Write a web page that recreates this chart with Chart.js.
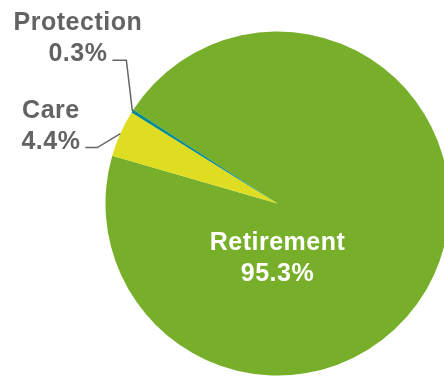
<!DOCTYPE html>
<html>
<head>
<meta charset="utf-8">
<script src="https://cdn.jsdelivr.net/npm/chart.js@4/dist/chart.umd.min.js"></script>
<style>
    html, body { margin: 0; padding: 0; background: #fff; }
    #wrap { width: 444px; height: 376px; position: relative; }
</style>
</head>
<body>
<div id="wrap"><canvas id="pieChart"></canvas></div>
<script>
const categories = ['Retirement', 'Care', 'Protection'];
const shares = [95.3, 4.4, 0.3];
const sliceColors = ['#77af2a', '#dfdd22', '#00898e'];

const FONT = 'bold 25px "Liberation Sans", Arial, sans-serif';

// leader line shape for the small slices: elbow offset from the rim, then a flat run to the left
const leaders = {
    Care: { dx: -23, dy: 14, run: 12 },
    Protection: { dx: -6, dy: -51, run: 14 }
};

const labelPlugin = {
    id: 'sliceLabels',
    afterDraw(chart) {
        const ctx = chart.ctx;
        const arcs = chart.getDatasetMeta(0).data;
        ctx.save();
        ctx.font = FONT;
        ctx.letterSpacing = '0.5px';
        arcs.forEach((arc, i) => {
            const { x, y, startAngle, endAngle, outerRadius } =
                arc.getProps(['x', 'y', 'startAngle', 'endAngle', 'outerRadius'], true);
            const name = categories[i];
            const pct = shares[i].toFixed(1) + '%';
            const leader = leaders[name];

            if (!leader) {
                // big slice: label inside
                ctx.fillStyle = '#ffffff';
                ctx.textAlign = 'center';
                ctx.textBaseline = 'alphabetic';
                ctx.fillText(name, x, y + 46);
                ctx.fillText(pct, x, y + 77);
                return;
            }

            const mid = (startAngle + endAngle) / 2;
            const ex = x + Math.cos(mid) * outerRadius;
            const ey = y + Math.sin(mid) * outerRadius;
            const kx = ex + leader.dx;
            const ky = ey + leader.dy;
            const lx = kx - leader.run;

            ctx.strokeStyle = '#666666';
            ctx.lineWidth = 1.5;
            ctx.beginPath();
            ctx.moveTo(ex, ey);
            ctx.lineTo(kx, ky);
            ctx.lineTo(lx, ky);
            ctx.stroke();

            const w = ctx.measureText(pct).width;
            const cx = lx - 5 - w / 2;
            ctx.fillStyle = '#636363';
            ctx.textAlign = 'center';
            ctx.textBaseline = 'alphabetic';
            ctx.fillText(name, cx, ky + 1 - 31);
            ctx.fillText(pct, cx, ky + 1);
        });
        ctx.restore();
    }
};

document.addEventListener("DOMContentLoaded", () => {
    const ctx = document.getElementById('pieChart').getContext('2d');
    new Chart(ctx, {
        type: 'pie',
        data: {
            labels: categories,
            datasets: [{
                data: shares,
                backgroundColor: sliceColors,
                borderWidth: 0,
                hoverOffset: 0
            }]
        },
        options: {
            responsive: true,
            maintainAspectRatio: false,
            animation: false,
            rotation: -57,
            radius: 172,
            layout: { padding: { left: 111, right: 0, top: 31, bottom: 0 } },
            plugins: {
                legend: { display: false },
                tooltip: { enabled: false }
            }
        },
        plugins: [labelPlugin]
    });
});
</script>
</body>
</html>
